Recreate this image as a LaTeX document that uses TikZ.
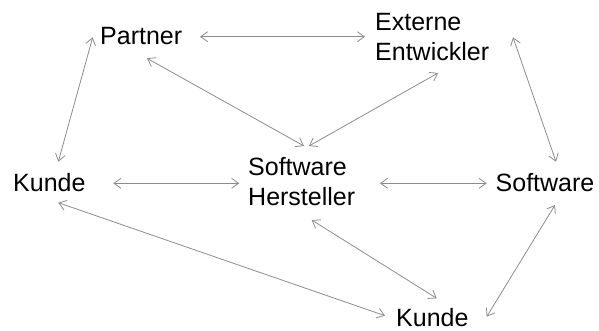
\documentclass[tikz,border=0pt]{standalone}
\usepackage{fontspec}
\setmainfont{Liberation Sans}
\usetikzlibrary{arrows.meta}
\begin{document}
\begin{tikzpicture}[x=1pt,y=-1pt,
  lbl/.style={inner sep=0pt,anchor=base west,align=left,font=\fontsize{25}{30.5}\selectfont,text=black},
  link/.style={draw=black!45,line width=0.8pt,{Straight Barb[length=7pt,width=10pt]}-{Straight Barb[length=7pt,width=10pt]}}]
\useasboundingbox (0,0) rectangle (599,331);
\node[lbl] (partner) at (100,45) {Partner};
\node[lbl] (extern) at (375,61) {Externe\\Entwickler};
\node[lbl] (herst) at (248,205.7) {Software\\Hersteller};
\node[lbl] (kundeL) at (13,191.7) {Kunde};
\node[lbl] (soft) at (495.5,192) {Software};
\node[lbl] (kundeB) at (396,326.7) {Kunde};
% endpoints
\coordinate (pe1) at (200,36.7);
\coordinate (pe2) at (365,36.7);
\coordinate (ph1) at (147,58.3);
\coordinate (ph2) at (304,146);
\coordinate (eh1) at (438,73);
\coordinate (eh2) at (309,146);
\coordinate (pk1) at (92.7,37.3);
\coordinate (pk2) at (58.3,161.7);
\coordinate (es1) at (513,37.3);
\coordinate (es2) at (556,161.7);
\coordinate (kh1) at (113.3,183.3);
\coordinate (kh2) at (239.3,183.3);
\coordinate (hs1) at (380,183.3);
\coordinate (hs2) at (486.7,183.3);
\coordinate (kk1) at (58.3,202.7);
\coordinate (kk2) at (385,315.7);
\coordinate (hk1) at (311.7,220);
\coordinate (hk2) at (436.7,298.3);
\coordinate (sk1) at (555,205);
\coordinate (sk2) at (486.7,316.7);
\draw[link] (pe1) -- (pe2);
\draw[link] (ph1) -- (ph2);
\draw[link] (eh1) -- (eh2);
\draw[link] (pk1) -- (pk2);
\draw[link] (es1) -- (es2);
\draw[link] (kh1) -- (kh2);
\draw[link] (hs1) -- (hs2);
\draw[link] (kk1) -- (kk2);
\draw[link] (hk1) -- (hk2);
\draw[link] (sk1) -- (sk2);
\end{tikzpicture}
\end{document}
